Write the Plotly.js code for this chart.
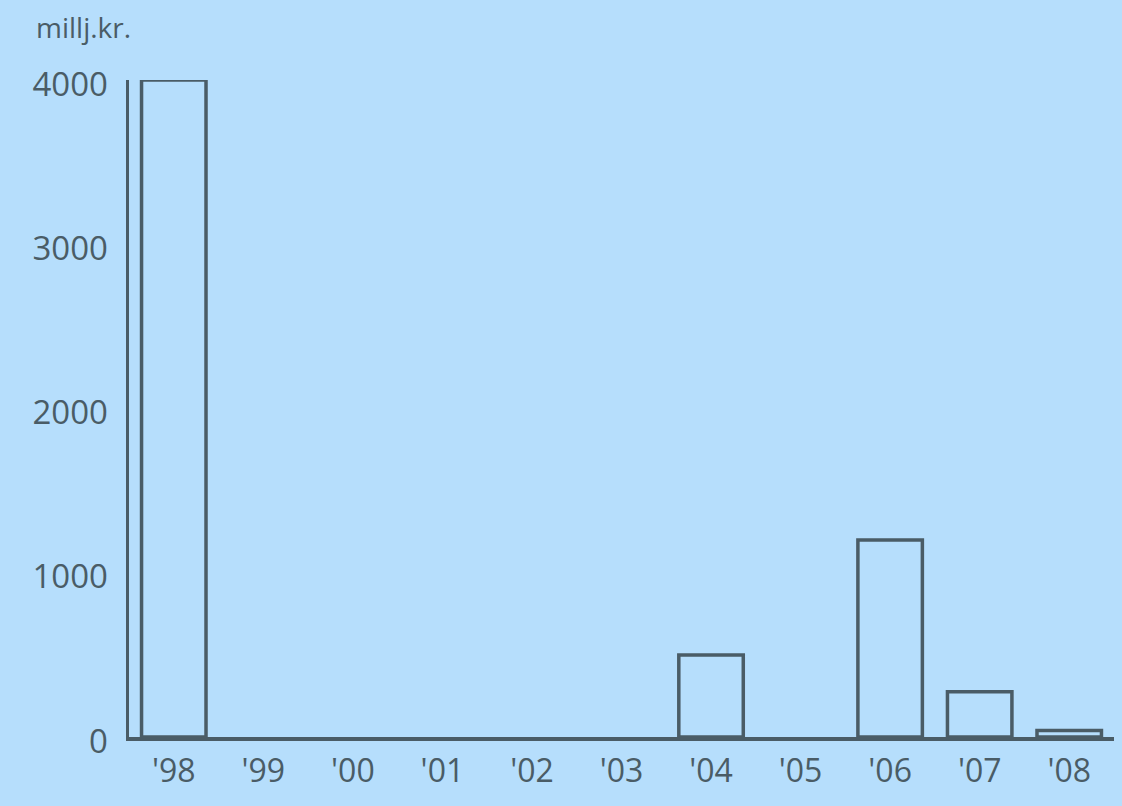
<!DOCTYPE html>
<html><head><meta charset="utf-8">
<script src="https://cdn.plot.ly/plotly-3.0.1.min.js"></script>
<style>html,body{margin:0;padding:0;background:#b6defc;}#c{width:1122px;height:806px;}</style>
</head><body><div id="c"></div>
<script>
const years = ["'98","'99","'00","'01","'02","'03","'04","'05","'06","'07","'08"];
const values = [4000, 0, 0, 0, 0, 0, 500, 0, 1200, 275, 40];
const yTicks = [0, 1000, 2000, 3000, 4000];
const unitLabel = "millj.kr.";

const ink = '#4a5c66';
const bg = '#b6defc';
Plotly.newPlot('c', [{
  type: 'bar', x: years, y: values,
  marker: {color: bg, line: {color: ink, width: values.map(v => v > 0 ? 3.5 : 0)}},
  width: 0.72, hoverinfo: 'none'
}], {
  width: 1122, height: 806,
  paper_bgcolor: bg, plot_bgcolor: bg,
  margin: {l: 129, r: 8, t: 80, b: 69},
  font: {family: 'Open Sans, sans-serif', color: ink},
  showlegend: false,
  xaxis: {type: 'category', range: [-0.5, 10.5], showgrid: false, zeroline: false,
    showline: true, linecolor: ink, linewidth: 3.5, ticks: '', ticklen: 0, ticklabelstandoff: 3,
    tickfont: {size: 32, color: ink}, fixedrange: true},
  yaxis: {range: [0, 4000], tickvals: yTicks, ticktext: yTicks.map(String), showgrid: false, zeroline: false,
    showline: true, linecolor: ink, linewidth: 3.5, ticks: '', ticklen: 0, ticklabelstandoff: 11, ticklabelshift: 4,
    tickfont: {size: 33, color: ink}, fixedrange: true},
  annotations: [{text: unitLabel, xref: 'paper', yref: 'paper', x: -0.096, y: 1.081, xanchor: 'left', yanchor: 'middle',
    showarrow: false, font: {size: 28, color: ink}}]
}, {displayModeBar: false, staticPlot: true});
</script></body></html>
